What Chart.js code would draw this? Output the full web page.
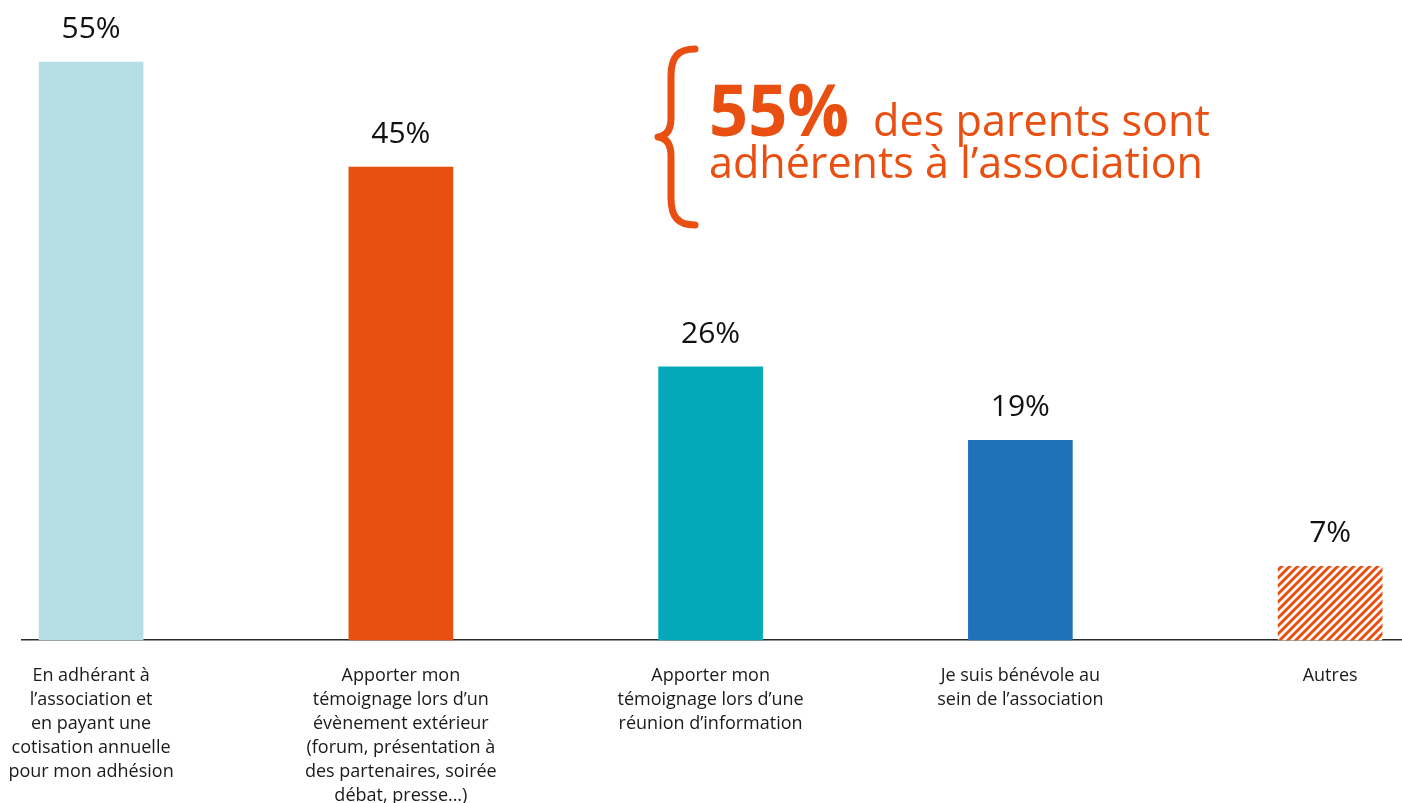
<!DOCTYPE html>
<html lang="fr">
<head>
  <meta charset="UTF-8">
  <title>Engagement des parents dans l'association</title>
  <script src="https://cdn.jsdelivr.net/npm/chart.js"></script>
  <style>
    html, body { margin: 0; padding: 0; background: #fff; }
    #cadre { width: 1402px; height: 803px; }
  </style>
</head>
<body>
  <div id="cadre"><canvas id="graphique"></canvas></div>

  <script>
    // Catégories (libellés sur plusieurs lignes)
    const categories = [
      ['En adhérant à', 'l’association et', 'en payant une', 'cotisation annuelle', 'pour mon adhésion'],
      ['Apporter mon', 'témoignage lors d’un', 'évènement extérieur', '(forum, présentation à', 'des partenaires, soirée', 'débat, presse…)'],
      ['Apporter mon', 'témoignage lors d’une', 'réunion d’information'],
      ['Je suis bénévole au', 'sein de l’association'],
      ['Autres']
    ];
    // Pourcentages de réponses
    const pourcentages = [55, 45, 26, 19, 7];
    // Texte de l'encadré
    const chiffreCle = '55%';
    const texteCle = ['des parents sont', 'adhérents à l’association'];

    const ORANGE = '#e84f11';

    // Motif hachuré pour la barre "Autres"
    function motifHachures(couleur) {
      const t = 8;
      const c = document.createElement('canvas');
      c.width = t; c.height = t;
      const g = c.getContext('2d');
      g.fillStyle = '#fff';
      g.fillRect(0, 0, t, t);
      g.strokeStyle = couleur;
      g.lineWidth = 3;
      g.beginPath();
      g.moveTo(-2, t + 2); g.lineTo(t + 2, -2);
      g.moveTo(-2, 2); g.lineTo(2, -2);
      g.moveTo(t - 2, t + 2); g.lineTo(t + 2, t - 2);
      g.stroke();
      return g.createPattern(c, 'repeat');
    }

    // Valeurs au-dessus des barres
    const etiquettesValeurs = {
      id: 'etiquettesValeurs',
      afterDatasetsDraw(chart) {
        const ctx = chart.ctx;
        ctx.save();
        ctx.font = '30px "Open Sans"';
        ctx.fillStyle = '#111';
        ctx.textAlign = 'center';
        ctx.textBaseline = 'alphabetic';
        chart.getDatasetMeta(0).data.forEach((barre, i) => {
          ctx.fillText(pourcentages[i] + '%', barre.x, barre.y - 24);
        });
        ctx.restore();
      }
    };

    function texteAjuste(ctx, texte, x, y, largeur, police) {
      ctx.font = police;
      const w = ctx.measureText(texte).width;
      ctx.save();
      ctx.translate(x, y);
      ctx.scale(largeur / w, 1);
      ctx.fillText(texte, 0, 0);
      ctx.restore();
    }

    // Accolade + texte clé
    const encadre = {
      id: 'encadre',
      afterDraw(chart) {
        const ctx = chart.ctx;
        ctx.save();
        ctx.strokeStyle = ORANGE;
        ctx.lineWidth = 7;
        ctx.lineCap = 'round';
        ctx.lineJoin = 'round';
        ctx.beginPath();
        ctx.moveTo(695, 49);
        ctx.bezierCurveTo(678, 49, 671, 57, 671, 76);
        ctx.lineTo(671, 118);
        ctx.bezierCurveTo(671, 130, 666, 136, 658, 137);
        ctx.bezierCurveTo(666, 138, 671, 144, 671, 156);
        ctx.lineTo(671, 198);
        ctx.bezierCurveTo(671, 217, 678, 225, 695, 225);
        ctx.stroke();

        ctx.fillStyle = ORANGE;
        ctx.textAlign = 'left';
        ctx.textBaseline = 'alphabetic';
        texteAjuste(ctx, chiffreCle, 709, 136, 140, 'bold 72px "Open Sans"');
        texteAjuste(ctx, texteCle[0], 873, 136, 337, '44px "Open Sans"');
        texteAjuste(ctx, texteCle[1], 709, 178, 494, '44px "Open Sans"');
        ctx.restore();
      }
    };

    const config = {
      type: 'bar',
      data: {
        datasets: [{
          data: pourcentages.map((v, i) => ({ x: i, y: v })),
          backgroundColor: ['#b5dfe4', ORANGE, '#03a9b9', '#1f72b8', motifHachures(ORANGE)],
          borderWidth: 0,
          barThickness: 104,
          clip: false
        }]
      },
      options: {
        responsive: true,
        maintainAspectRatio: false,
        animation: false,
        layout: { padding: { left: 22, right: 0, top: 9.5, bottom: 0 } },
        plugins: {
          legend: { display: false },
          tooltip: { enabled: false }
        },
        scales: {
          x: {
            type: 'linear',
            offset: false,
            min: -0.223,
            max: 4.232,
            grid: { display: false, drawTicks: false, offset: false },
            border: { display: true, color: '#2a2a2a', width: 1.5 },
            afterBuildTicks: (s) => { s.ticks = categories.map((_, i) => ({ value: i })); },
            afterFit: (s) => {
              s.height = 163;
              s.paddingLeft = 0;
              s.paddingRight = 0;
            },
            ticks: {
              autoSkip: false,
              maxRotation: 0,
              minRotation: 0,
              padding: 24,
              color: '#1a1a1a',
              font: { family: '"Open Sans"', size: 18, lineHeight: 24 / 18 },
              callback: (v) => categories[v]
            }
          },
          y: {
            display: false,
            min: 0,
            max: 60
          }
        }
      },
      plugins: [etiquettesValeurs, encadre]
    };

    new Chart(document.getElementById('graphique').getContext('2d'), config);
  </script>
</body>
</html>
